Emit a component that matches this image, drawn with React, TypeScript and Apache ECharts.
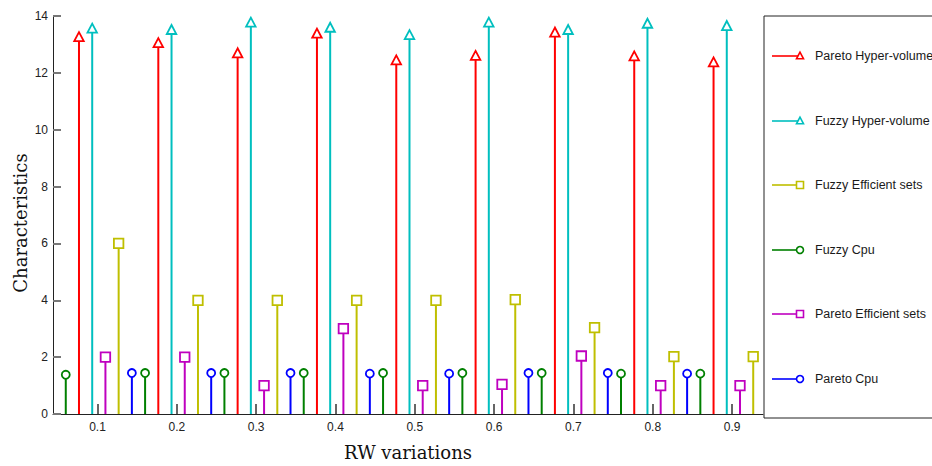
import React, { useEffect, useRef } from "react";
import * as echarts from "echarts";

// ---- data ----
const tickValues = [0.1, 0.2, 0.3, 0.4, 0.5, 0.6, 0.7, 0.8, 0.9];
const paretoHyperVolume = [13.25, 13.04, 12.68, 13.37, 12.43, 12.59, 13.41, 12.57, 12.36];
const fuzzyHyperVolume = [13.55, 13.5, 13.76, 13.58, 13.32, 13.76, 13.5, 13.72, 13.64];
const fuzzyEfficientSets = [6.0, 4.0, 4.0, 4.0, 4.0, 4.02, 3.04, 2.02, 2.02];
const fuzzyCpu = [1.38, 1.44, 1.44, 1.44, 1.44, 1.44, 1.44, 1.42, 1.42];
const paretoEfficientSets = [2.0, 2.0, 1.0, 3.0, 1.0, 1.04, 2.04, 1.0, 1.0];
const paretoCpu = [1.44, 1.44, 1.44, 1.42, 1.42, 1.44, 1.44, 1.42];

type Marker = "triangle" | "square" | "circle";
interface SeriesDef {
  name: string;
  values: number[];
  color: string;
  marker: Marker;
  slot: number; // position inside a group (stem order)
}

const seriesDefs: SeriesDef[] = [
  { name: "Pareto Hyper-volume", values: paretoHyperVolume, color: "#ff0000", marker: "triangle", slot: 1 },
  { name: "Fuzzy Hyper-volume", values: fuzzyHyperVolume, color: "#00bfbf", marker: "triangle", slot: 2 },
  { name: "Fuzzy Efficient sets", values: fuzzyEfficientSets, color: "#bfbf00", marker: "square", slot: 4 },
  { name: "Fuzzy Cpu", values: fuzzyCpu, color: "#008000", marker: "circle", slot: 0 },
  { name: "Pareto Efficient sets", values: paretoEfficientSets, color: "#bf00bf", marker: "square", slot: 3 },
  { name: "Pareto Cpu", values: paretoCpu, color: "#0000ff", marker: "circle", slot: 5 },
];

const SLOT_STEP = 1 / 60;
const SLOT_SHIFT = 2.4;

function markerShape(kind: Marker, cx: number, cy: number, color: string, s: number, lw: number) {
  const style = { fill: "#ffffff", stroke: color, lineWidth: lw };
  if (kind === "triangle") {
    return {
      type: "polygon",
      shape: { points: [[cx, cy - s * 0.55], [cx - s * 0.5, cy + s * 0.4], [cx + s * 0.5, cy + s * 0.4]] },
      style,
    };
  }
  if (kind === "square") {
    return { type: "rect", shape: { x: cx - s / 2, y: cy - s / 2, width: s, height: s }, style };
  }
  return { type: "circle", shape: { cx, cy, r: s / 2 }, style };
}

export default function App() {
  const ref = useRef<HTMLDivElement>(null);

  useEffect(() => {
    if (!ref.current) return;
    const chart = echarts.init(ref.current, null, { renderer: "svg" });

    const series = seriesDefs.map((d) => ({
      type: "custom",
      name: d.name,
      encode: { x: 0, y: 1 },
      data: d.values.map((v, i) => [tickValues[i] + (d.slot - SLOT_SHIFT) * SLOT_STEP, v]),
      renderItem: (_params: any, api: any) => {
        const x = api.value(0);
        const y = api.value(1);
        const top = api.coord([x, y]);
        const base = api.coord([x, 0]);
        return {
          type: "group",
          children: [
            {
              type: "line",
              shape: { x1: base[0], y1: base[1], x2: top[0], y2: top[1] },
              style: { stroke: d.color, lineWidth: 2 },
            },
            markerShape(d.marker, top[0], top[1], d.color, d.marker === "circle" ? 8 : 9.5, 1.8),
          ],
        };
      },
      z: 3,
    }));

    // legend drawn as graphic
    const legendTop = 16;
    const legendLeft = 764;
    const rowY = [56, 121, 185, 250, 314, 379];
    const legendChildren: any[] = [
      {
        type: "rect",
        shape: { x: legendLeft, y: legendTop, width: 200, height: 402 },
        style: { fill: "#ffffff", stroke: "#222222", lineWidth: 1 },
      },
    ];
    seriesDefs.forEach((d, i) => {
      const y = rowY[i];
      legendChildren.push({
        type: "line",
        shape: { x1: 772, y1: y, x2: 800, y2: y },
        style: { stroke: d.color, lineWidth: 1.6 },
      });
      legendChildren.push(markerShape(d.marker, 800, y, d.color, 7, 1.6));
      legendChildren.push({
        type: "text",
        x: 815,
        y: y,
        style: {
          text: d.name,
          fontFamily: "Liberation Sans, Arial, sans-serif",
          fontSize: 12.5,
          fill: "#1a1a1a",
          verticalAlign: "middle",
          align: "left",
        },
      });
    });

    chart.setOption({
      animation: false,
      backgroundColor: "#ffffff",
      grid: { left: 53, right: 169, top: 16, bottom: 48, containLabel: false },
      xAxis: {
        type: "value",
        min: 0.0439,
        max: 0.939,
        name: "RW variations",
        nameLocation: "middle",
        nameGap: 29,
        nameTextStyle: { fontFamily: "DejaVu Serif, serif", fontSize: 18, color: "#111111" },
        axisLine: { show: true, lineStyle: { color: "#222222", width: 1 } },
        axisTick: { show: true, inside: true, length: 10, customValues: tickValues, lineStyle: { color: "#333333", width: 1.5 } },
        axisLabel: {
          customValues: tickValues,
          formatter: (v: number) => v.toFixed(1),
          fontFamily: "Liberation Sans, Arial, sans-serif",
          fontSize: 12,
          color: "#222222",
          margin: 7,
        },
        splitLine: { show: false },
      },
      yAxis: {
        type: "value",
        min: 0,
        max: 14,
        interval: 2,
        axisLine: { show: true, lineStyle: { color: "#222222", width: 1 } },
        axisTick: { show: true, inside: true, length: 8, lineStyle: { color: "#777777", width: 2 } },
        axisLabel: {
          fontFamily: "Liberation Sans, Arial, sans-serif",
          fontSize: 12,
          color: "#222222",
          margin: 5,
        },
        splitLine: { show: false },
      },
      series,
      graphic: [
        {
          type: "text",
          x: 20,
          y: 223,
          rotation: Math.PI / 2,
          style: {
            text: "Characteristics",
            fontFamily: "DejaVu Serif, serif",
            fontSize: 18,
            fill: "#111111",
            align: "center",
            verticalAlign: "middle",
          },
        },
        { type: "group", z: 100, children: legendChildren },
      ],
    });

    return () => chart.dispose();
  }, []);

  return (
    <div
      ref={ref}
      style={{ position: "fixed", left: 0, top: 0, width: 932, height: 466, background: "#fff" }}
    />
  );
}
